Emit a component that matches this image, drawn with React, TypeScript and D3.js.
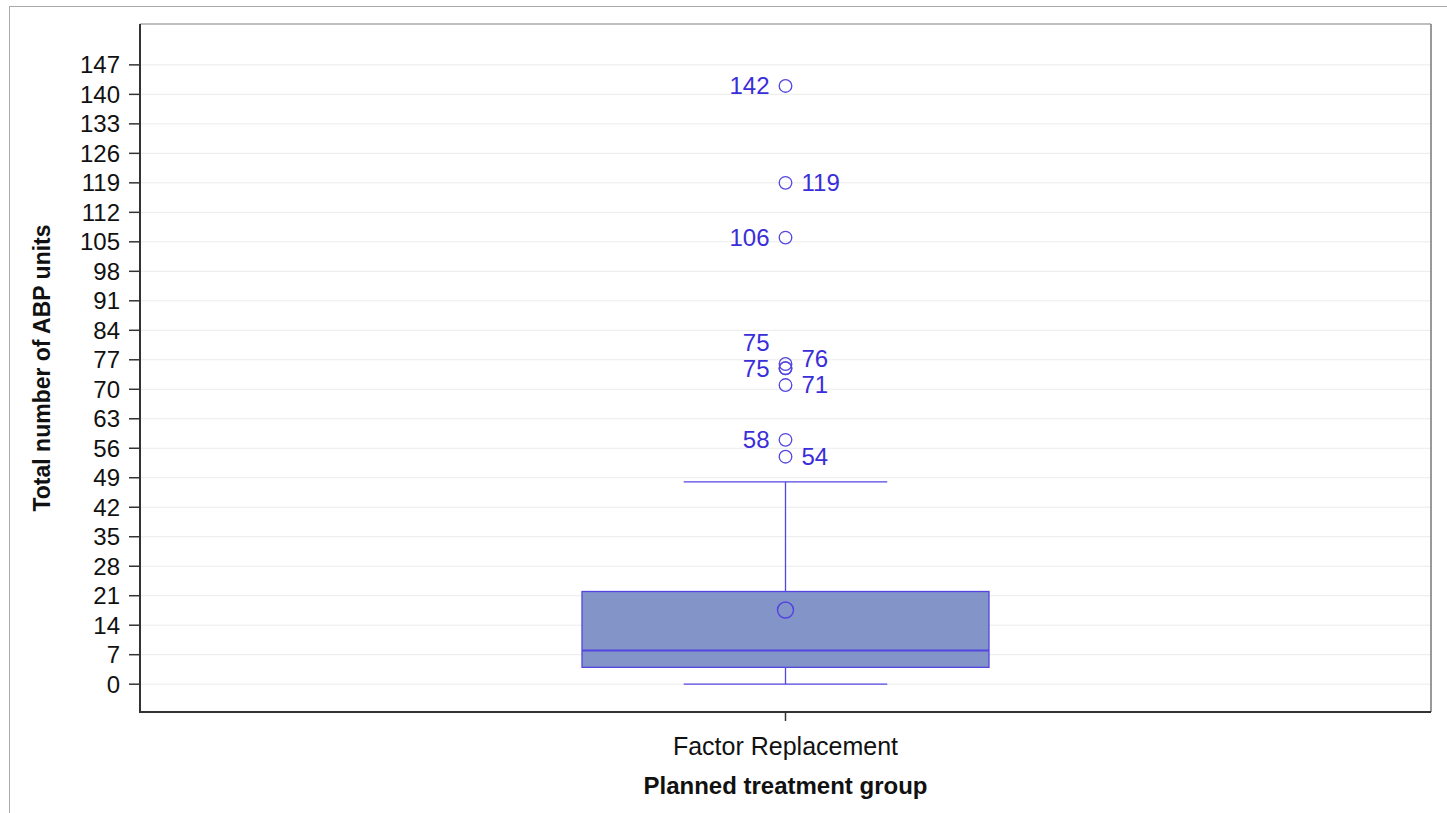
import React from "react";
import * as d3 from "d3";

const category = "Factor Replacement";
const yTicks = [0, 7, 14, 21, 28, 35, 42, 49, 56, 63, 70, 77, 84, 91, 98, 105, 112, 119, 126, 133, 140, 147];
// box statistics
const whiskerLow = 0;
const q1 = 4;
const median = 8;
const q3 = 22;
const whiskerHigh = 48;
const mean = 17.6;
const outliers = [142, 119, 106, 76, 75, 75, 71, 58, 54];
const outlierLabelSide = ["L", "R", "L", "R", "L", "L", "R", "L", "R"];

const W = 1447;
const H = 813;
const plot = { left: 140, top: 24, right: 1431, bottom: 712 };

export default function App() {
  const y = d3.scaleLinear().domain([-6.6, 156.7]).range([plot.bottom, plot.top]);
  const x = d3.scaleBand().domain([category]).range([plot.left, plot.right]).paddingInner(0).paddingOuter(0);
  const cx = (x(category) as number) + x.bandwidth() / 2;
  const boxHalf = 203.5;
  const capHalf = boxHalf / 2;

  const boxStroke = "#5346E0";
  const boxFill = "#8394C8";
  const labelColor = "#3A2ED8";
  const font = "'Liberation Sans', Arial, sans-serif";
  const fs = 24;

  // label placement: process from lowest to highest, push upward on collision per side
  const items = outliers.map((v, i) => ({ v, side: outlierLabelSide[i], ly: y(v) }));
  const order = items.map((_, i) => i).sort((a, b) => items[b].ly - items[a].ly);
  const lastY: Record<string, number> = { L: Infinity, R: Infinity };
  order.forEach((i) => {
    const it = items[i];
    const minGap = 26;
    if (it.ly > lastY[it.side] - minGap) it.ly = lastY[it.side] - minGap;
    lastY[it.side] = it.ly;
  });

  return (
    <svg width={W} height={H} style={{ position: "absolute", left: 0, top: 0, background: "#fff" }}>
      <rect x={9.5} y={6.5} width={W} height={H + 20} fill="none" stroke="#aaa" strokeWidth={1} />
      {/* gridlines */}
      {yTicks.map((t) => (
        <line key={"g" + t} x1={plot.left} x2={plot.right} y1={y(t)} y2={y(t)} stroke="#ebebeb" strokeWidth={1} />
      ))}
      {/* frame */}
      <line x1={plot.left} x2={plot.right} y1={plot.top} y2={plot.top} stroke="#aaa" strokeWidth={1.5} />
      <line x1={plot.right} x2={plot.right} y1={plot.top} y2={plot.bottom} stroke="#777" strokeWidth={1.5} />
      <line x1={plot.left} x2={plot.left} y1={plot.top} y2={plot.bottom + 1} stroke="#333" strokeWidth={2} />
      <line x1={plot.left} x2={plot.right} y1={plot.bottom} y2={plot.bottom} stroke="#333" strokeWidth={2} />
      {/* y ticks */}
      {yTicks.map((t) => (
        <g key={"t" + t}>
          <line x1={plot.left - 11} x2={plot.left} y1={y(t)} y2={y(t)} stroke="#333" strokeWidth={1.5} />
          <text x={plot.left - 20} y={y(t)} dy="0.35em" textAnchor="end" fontFamily={font} fontSize={fs} fill="#111">
            {t}
          </text>
        </g>
      ))}
      {/* x tick */}
      <line x1={cx} x2={cx} y1={plot.bottom} y2={plot.bottom + 9} stroke="#333" strokeWidth={1.5} />
      <text x={cx} y={746} dy="0.35em" textAnchor="middle" fontFamily={font} fontSize={25} fill="#111">
        {category}
      </text>
      <text x={cx} y={786} dy="0.35em" textAnchor="middle" fontFamily={font} fontSize={24} fontWeight="bold" fill="#111">
        Planned treatment group
      </text>
      <text
        transform={`translate(42, ${(plot.top + plot.bottom) / 2}) rotate(-90)`}
        dy="0.35em"
        textAnchor="middle"
        fontFamily={font}
        fontSize={23}
        fontWeight="bold"
        fill="#111"
      >
        Total number of ABP units
      </text>
      {/* whiskers */}
      <line x1={cx} x2={cx} y1={y(q3)} y2={y(whiskerHigh)} stroke={boxStroke} strokeWidth={1.3} />
      <line x1={cx} x2={cx} y1={y(q1)} y2={y(whiskerLow)} stroke={boxStroke} strokeWidth={1.3} />
      <line x1={cx - capHalf} x2={cx + capHalf} y1={y(whiskerHigh)} y2={y(whiskerHigh)} stroke={boxStroke} strokeWidth={1.3} />
      <line x1={cx - capHalf} x2={cx + capHalf} y1={y(whiskerLow)} y2={y(whiskerLow)} stroke={boxStroke} strokeWidth={1.3} />
      {/* box */}
      <rect
        x={cx - boxHalf}
        y={y(q3)}
        width={boxHalf * 2}
        height={y(q1) - y(q3)}
        fill={boxFill}
        stroke={boxStroke}
        strokeWidth={1.3}
      />
      <line x1={cx - boxHalf} x2={cx + boxHalf} y1={y(median)} y2={y(median)} stroke={boxStroke} strokeWidth={1.8} />
      <circle cx={cx} cy={y(mean)} r={8} fill="none" stroke={boxStroke} strokeWidth={1.5} />
      {/* outliers */}
      {items.map((it, i) => (
        <g key={"o" + i}>
          <circle cx={cx} cy={y(it.v)} r={6.3} fill="none" stroke={boxStroke} strokeWidth={1.3} />
          <text
            x={it.side === "L" ? cx - 16 : cx + 16}
            y={it.ly}
            dy="0.35em"
            textAnchor={it.side === "L" ? "end" : "start"}
            fontFamily={font}
            fontSize={fs}
            fill={labelColor}
          >
            {it.v}
          </text>
        </g>
      ))}
    </svg>
  );
}
